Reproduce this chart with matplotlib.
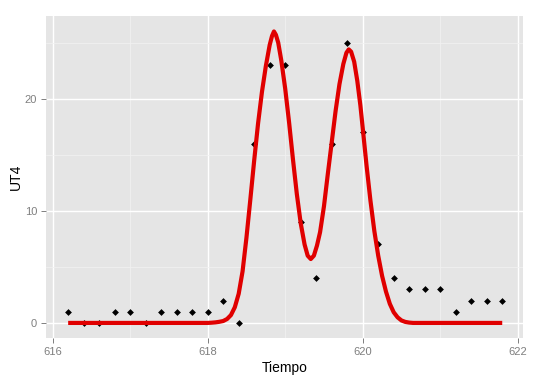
import matplotlib
matplotlib.use("Agg")
import matplotlib.pyplot as plt
from matplotlib.ticker import MultipleLocator

plt.rcParams['font.family'] = ['Liberation Sans', 'DejaVu Sans']

# observed points
tiempo = [616.2, 616.4, 616.6, 616.8, 617.0, 617.2, 617.4, 617.6, 617.8, 618.0,
          618.2, 618.4, 618.6, 618.8, 619.0, 619.2, 619.4, 619.6, 619.8, 620.0,
          620.2, 620.4, 620.6, 620.8, 621.0, 621.2, 621.4, 621.6, 621.8]
ut4 = [1, 0, 0, 1, 1, 0, 1, 1, 1, 1,
       2, 0, 16, 23, 23, 9, 4, 16, 25, 17,
       7, 4, 3, 3, 3, 1, 2, 2, 2]

# fitted curve
fit_x = [616.2, 617.0, 617.8, 618.0, 618.05, 618.1, 618.15, 618.2, 618.25, 618.3,
         618.35, 618.4, 618.45, 618.5, 618.55, 618.6, 618.65, 618.7, 618.75, 618.8,
         618.83, 618.855, 618.88, 618.91, 618.95, 619.0, 619.05, 619.1, 619.15, 619.2,
         619.25, 619.29, 619.33, 619.37, 619.41, 619.45, 619.5, 619.55, 619.6, 619.65,
         619.7, 619.75, 619.79, 619.82, 619.85, 619.89, 619.93, 619.97, 620.0, 620.05,
         620.1, 620.15, 620.2, 620.25, 620.3, 620.35, 620.4, 620.45, 620.5, 620.55,
         620.6, 620.65, 621.2, 621.8]
fit_y = [0, 0, 0, 0.0, 0.02, 0.05, 0.1, 0.17, 0.35, 0.7,
         1.4, 2.6, 4.6, 7.6, 11.0, 14.5, 17.8, 20.6, 22.9, 24.8,
         25.6, 26.0, 25.7, 25.0, 23.4, 20.9, 17.9, 14.6, 11.5, 8.9,
         7.0, 6.0, 5.7, 6.0, 6.9, 8.1, 10.4, 13.3, 16.1, 18.9,
         21.3, 23.1, 24.1, 24.4, 24.2, 23.3, 21.6, 19.4, 17.4, 14.0,
         10.9, 8.2, 6.0, 4.2, 2.8, 1.7, 0.95, 0.5, 0.22, 0.09,
         0.03, 0, 0, 0]

fig = plt.figure(figsize=(5.4, 3.82), dpi=100)
ax = fig.add_axes([46 / 540, 1 - 337.5 / 382, 477 / 540, 321.5 / 382])
ax.set_facecolor('#E5E5E5')
for s in ax.spines.values():
    s.set_visible(False)

ax.set_xlim(615.914, 622.068)
ax.set_ylim(-1.30, 27.38)
ax.xaxis.set_major_locator(MultipleLocator(2))
ax.xaxis.set_minor_locator(MultipleLocator(1))
ax.yaxis.set_major_locator(MultipleLocator(10))
ax.yaxis.set_minor_locator(MultipleLocator(5))
ax.grid(which='major', color='white', linewidth=1.0)
ax.grid(which='minor', color='#F2F2F2', linewidth=0.5)
ax.set_axisbelow(True)
ax.tick_params(which='major', length=3.5, width=0.7, color='#7F7F7F',
               labelcolor='#7F7F7F', labelsize=8, pad=3)
ax.tick_params(which='minor', length=0)

ax.scatter(tiempo, ut4, marker='D', s=12, color='black', zorder=2, linewidths=0)
ax.plot(fit_x, fit_y, color='#E00000', linewidth=3.0, zorder=3,
        solid_capstyle='butt', solid_joinstyle='round')

ax.set_xlabel('Tiempo', fontsize=10, labelpad=3)
ax.set_ylabel('UT4', fontsize=10, labelpad=1)

fig.savefig('out.png', dpi=100)
